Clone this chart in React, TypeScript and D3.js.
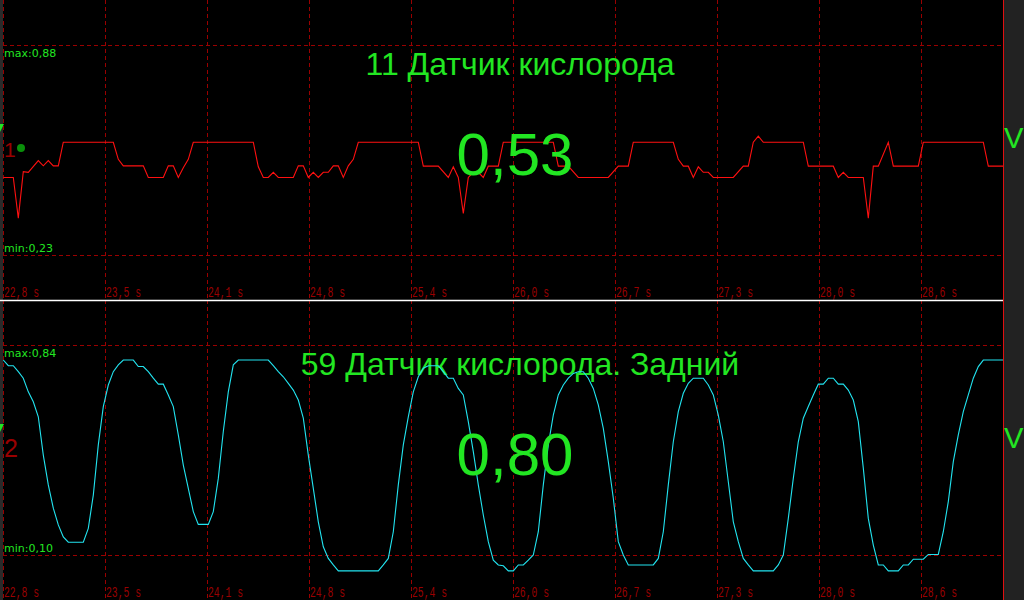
import React from "react";
import * as d3 from "d3";

// ---- data ----
const T0 = 22.82; // seconds at first sample
const DT = 0.03157; // seconds per sample
const SAMPLE_COUNT = 200;
const TICK_STEP = 0.644;
const tickLabels = ["22,8 s", "23,5 s", "24,1 s", "24,8 s", "25,4 s", "26,0 s", "26,7 s", "27,3 s", "28,0 s", "28,6 s"];

const frontTitle = "11 Датчик кислорода";
const frontValue = "0,53";
const frontMax = "max:0,88";
const frontMin = "min:0,23";
const frontDomain = [0.23, 0.88];

const rearTitle = "59 Датчик кислорода. Задний";
const rearValue = "0,80";
const rearMax = "max:0,84";
const rearMin = "min:0,10";
const rearDomain = [0.1, 0.84];

// [sample index, volts]
const frontPoints: [number, number][] = [
  [0, 0.47], [2, 0.47], [3, 0.344], [4, 0.488], [5, 0.486], [7, 0.522], [8, 0.506], [9, 0.522], [10, 0.506], [11, 0.506],
  [12, 0.579], [22, 0.579], [23, 0.526], [24, 0.506], [28, 0.506], [29, 0.47], [32, 0.47], [33, 0.506], [34, 0.506], [35, 0.47],
  [36, 0.5], [37, 0.526], [38, 0.579], [50, 0.579], [51, 0.503], [52, 0.47], [53, 0.47], [54, 0.486], [55, 0.47], [58, 0.47],
  [59, 0.506], [60, 0.506], [61, 0.47], [62, 0.486], [63, 0.47], [64, 0.486], [65, 0.486], [66, 0.506], [67, 0.506], [68, 0.47],
  [69, 0.506], [70, 0.526], [71, 0.579], [83, 0.579], [84, 0.505], [87, 0.505], [89, 0.47], [90, 0.503], [91, 0.47], [92, 0.359],
  [93, 0.47], [94, 0.486], [95, 0.486], [96, 0.47], [97, 0.505], [99, 0.505], [100, 0.579], [110, 0.579], [111, 0.505], [113, 0.505],
  [115, 0.47], [121, 0.47], [123, 0.505], [125, 0.505], [126, 0.579], [134, 0.579], [135, 0.526], [136, 0.505], [137, 0.505], [138, 0.47],
  [139, 0.503], [140, 0.486], [141, 0.486], [142, 0.47], [146, 0.47], [148, 0.505], [149, 0.505], [150, 0.579], [151, 0.598], [152, 0.579],
  [160, 0.579], [161, 0.505], [166, 0.505], [167, 0.47], [168, 0.486], [169, 0.47], [172, 0.47], [173, 0.344], [174, 0.505], [175, 0.505],
  [177, 0.579], [178, 0.505], [183, 0.505], [184, 0.579], [196, 0.579], [197, 0.505], [200, 0.505],
];

const rearPoints: [number, number][] = [
  [0, 0.787], [1, 0.767], [2, 0.767], [3, 0.746], [4, 0.723], [5, 0.675], [6, 0.64], [7, 0.587], [8, 0.452], [9, 0.347],
  [10, 0.265], [11, 0.206], [12, 0.164], [13, 0.145], [16, 0.145], [17, 0.194], [18, 0.311], [19, 0.488], [20, 0.623], [21, 0.699],
  [22, 0.746], [23, 0.77], [24, 0.787], [26, 0.787], [27, 0.764], [28, 0.764], [29, 0.746], [30, 0.723], [31, 0.702], [32, 0.702],
  [33, 0.664], [34, 0.623], [35, 0.523], [36, 0.417], [37, 0.335], [38, 0.253], [39, 0.208], [41, 0.208], [42, 0.253], [43, 0.37],
  [44, 0.535], [45, 0.675], [46, 0.77], [47, 0.787], [53, 0.787], [54, 0.767], [55, 0.746], [56, 0.728], [57, 0.705], [58, 0.681],
  [59, 0.646], [60, 0.582], [61, 0.452], [62, 0.335], [63, 0.217], [64, 0.129], [65, 0.088], [66, 0.065], [67, 0.044], [75, 0.044],
  [76, 0.065], [77, 0.088], [78, 0.182], [79, 0.347], [80, 0.488], [81, 0.587], [82, 0.675], [83, 0.728], [84, 0.758], [85, 0.767],
  [87, 0.767], [88, 0.746], [89, 0.723], [90, 0.723], [91, 0.687], [92, 0.664], [93, 0.57], [94, 0.464], [95, 0.347], [96, 0.241],
  [97, 0.147], [98, 0.082], [99, 0.065], [100, 0.062], [101, 0.044], [102, 0.044], [103, 0.065], [104, 0.065], [105, 0.082], [106, 0.1],
  [107, 0.182], [108, 0.347], [109, 0.488], [110, 0.593], [111, 0.664], [112, 0.699], [113, 0.723], [114, 0.74], [115, 0.746], [116, 0.746],
  [117, 0.723], [118, 0.687], [119, 0.629], [120, 0.546], [121, 0.429], [122, 0.3], [123, 0.147], [124, 0.1], [125, 0.065], [130, 0.065],
  [131, 0.088], [132, 0.182], [133, 0.347], [134, 0.499], [135, 0.605], [136, 0.67], [137, 0.705], [138, 0.723], [140, 0.723], [141, 0.699],
  [142, 0.664], [143, 0.593], [144, 0.499], [145, 0.358], [146, 0.217], [147, 0.147], [148, 0.088], [149, 0.065], [150, 0.044], [154, 0.044],
  [155, 0.065], [156, 0.1], [157, 0.229], [158, 0.37], [159, 0.499], [160, 0.582], [161, 0.623], [162, 0.664], [163, 0.702], [164, 0.702],
  [165, 0.723], [166, 0.723], [167, 0.702], [168, 0.702], [169, 0.681], [170, 0.646], [171, 0.57], [172, 0.406], [173, 0.229], [174, 0.135],
  [175, 0.065], [176, 0.065], [177, 0.044], [179, 0.044], [180, 0.065], [181, 0.065], [182, 0.085], [184, 0.085], [185, 0.102], [187, 0.102],
  [188, 0.182], [189, 0.288], [190, 0.429], [191, 0.523], [192, 0.605], [193, 0.664], [194, 0.723], [195, 0.764], [196, 0.787], [200, 0.787],
];

// ---- layout ----
const W = 1024;
const H = 600;
const PLOT_L = 3.3;
const PLOT_R = 1003.3;
const CLIP_R = 1003;
const GREEN = "#22e622";
const GRID = "#9a0000";
const LABEL_RED = "#9a0000";
const SANS = "'Liberation Sans', Arial, sans-serif";

const x = d3.scaleLinear().domain([T0, T0 + SAMPLE_COUNT * DT]).range([PLOT_L, PLOT_R]);

type PanelProps = {
  top: number;
  points: [number, number][];
  domain: number[];
  color: string;
  title: string;
  value: string;
  maxLabel: string;
  minLabel: string;
  num: string;
  numSize: number;
  showDot: boolean;
  id: string;
};

function Panel(p: PanelProps) {
  const y = d3.scaleLinear().domain(p.domain).range([p.top + 255, p.top + 45]);
  const line = d3
    .line<[number, number]>()
    .x((d) => x(T0 + d[0] * DT))
    .y((d) => y(d[1]));
  const ticks = tickLabels.map((_, i) => T0 + i * TICK_STEP);
  return (
    <g>
      <defs>
        <clipPath id={p.id}>
          <rect x={3} y={p.top} width={CLIP_R - 3} height={300} />
        </clipPath>
      </defs>
      {/* grid */}
      {ticks.map((t, i) => (
        <line key={"v" + i} x1={Math.round(x(t)) + 0.5} x2={Math.round(x(t)) + 0.5} y1={p.top} y2={p.top + 300}
          stroke={GRID} strokeWidth={1} strokeDasharray="4,3" shapeRendering="crispEdges" />
      ))}
      {[p.domain[1], p.domain[0]].map((v, i) => (
        <line key={"h" + i} x1={3} x2={CLIP_R} y1={Math.round(y(v)) + 0.5} y2={Math.round(y(v)) + 0.5}
          stroke={GRID} strokeWidth={1} strokeDasharray="4,3" shapeRendering="crispEdges" />
      ))}
      {ticks.map((t, i) => (
        <text key={"t" + i} x={Math.round(x(t)) + 1} y={p.top + 297} fill={LABEL_RED}
          fontFamily="'Liberation Mono', 'Courier New', monospace" fontSize={14}
          textLength={35} lengthAdjust="spacingAndGlyphs">{tickLabels[i]}</text>
      ))}
      {/* texts */}
      <text x={520} y={p.top + 75} textAnchor="middle" fill={GREEN} fontFamily={SANS} fontSize={32}>{p.title}</text>
      <text x={4} y={p.top + 57} fill={GREEN} fontFamily="'DejaVu Sans', Verdana, sans-serif" fontSize={11}>{p.maxLabel}</text>
      <text x={4} y={p.top + 252} fill={GREEN} fontFamily="'DejaVu Sans', Verdana, sans-serif" fontSize={11}>{p.minLabel}</text>
      {/* trace */}
      <path d={line(p.points) || ""} fill="none" stroke={p.color} strokeWidth={1.1} clipPath={`url(#${p.id})`} />
      <text x={515} y={p.top + 175} textAnchor="middle" fill={GREEN} fontFamily={SANS} fontSize={60}>{p.value}</text>
      <text x={4} y={p.top + 157} fill={LABEL_RED} fontFamily={SANS} fontSize={p.numSize}>{p.num}</text>
      {p.showDot && <circle cx={21} cy={p.top + 148} r={4} fill="#0a8f0a" />}
      <path d={`M0,${p.top + 124} L4,${p.top + 124} L0,${p.top + 132} Z`} fill={GREEN} />
      <text x={1004} y={p.top + 148} fill={GREEN} fontFamily={SANS} fontSize={29}>V</text>
    </g>
  );
}

export default function App() {
  return (
    <div style={{ position: "fixed", left: 0, top: 0, width: W, height: H, background: "#000" }}>
      <svg width={W} height={H} style={{ display: "block" }}>
        <rect x={0} y={0} width={W} height={H} fill="#000" />
        <rect x={0} y={0} width={3} height={H} fill="#2a2a2a" />
        <rect x={1003} y={0} width={21} height={H} fill="#222" />
        <Panel top={0} points={frontPoints} domain={frontDomain} color="#ff1010" title={frontTitle} value={frontValue}
          maxLabel={frontMax} minLabel={frontMin} num="1" numSize={21} showDot={true} id="clipA" />
        <Panel top={300} points={rearPoints} domain={rearDomain} color="#22e4f0" title={rearTitle} value={rearValue}
          maxLabel={rearMax} minLabel={rearMin} num="2" numSize={25} showDot={false} id="clipB" />
        <line x1={0} x2={1003} y1={300.5} y2={300.5} stroke="#fff" strokeWidth={1.5} />
        <line x1={1003.5} x2={1003.5} y1={0} y2={H} stroke="#e01010" strokeWidth={1} />
      </svg>
    </div>
  );
}
